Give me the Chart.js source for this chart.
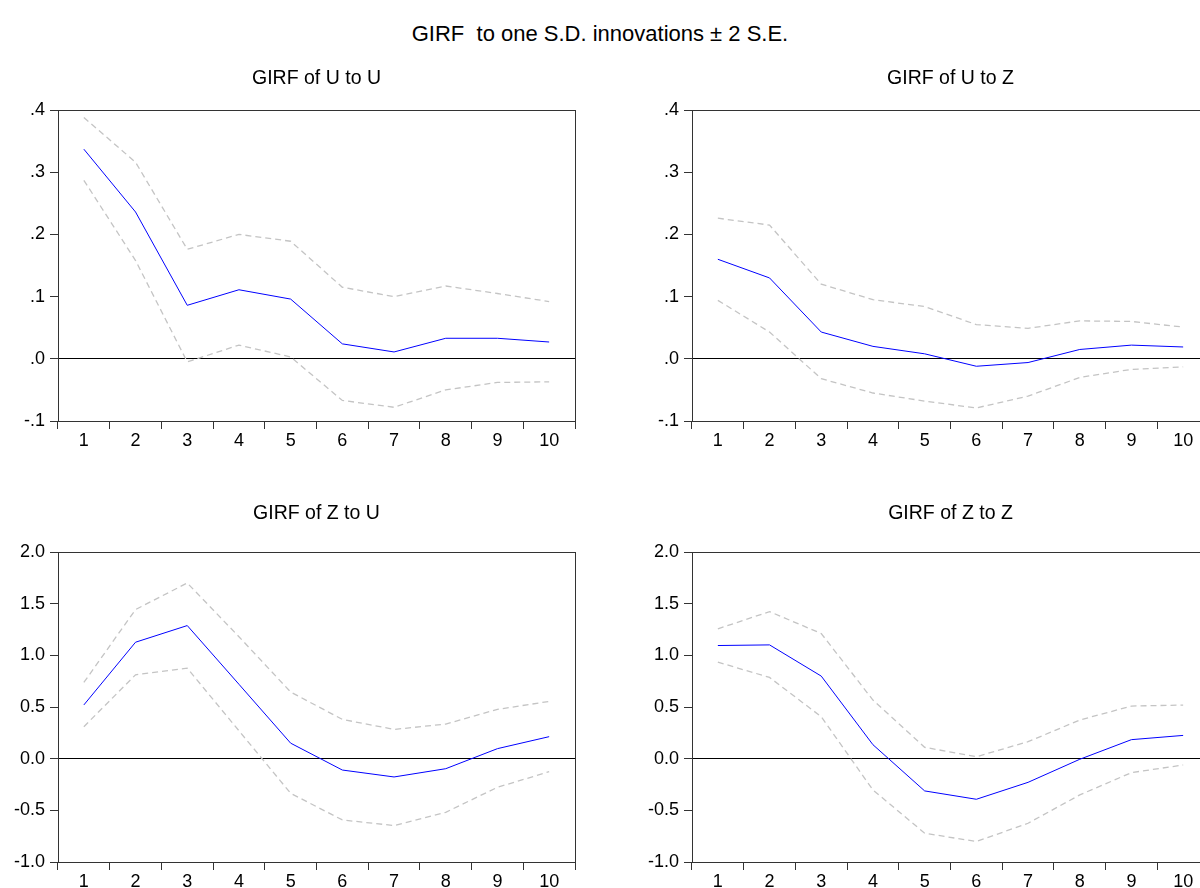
<!DOCTYPE html>
<html>
<head>
<meta charset="utf-8">
<script src="https://cdn.jsdelivr.net/npm/chart.js@4.4.1/dist/chart.umd.min.js"></script>
<style>
    html, body { margin: 0; padding: 0; background: #fff; overflow: hidden; }
    body { width: 1200px; height: 888px; position: relative; }
    #mainTitle { position: absolute; left: 0; width: 1200px; top: 21px; line-height: 26px; text-align: center;
        font-family: "Liberation Sans", Arial, sans-serif; font-size: 22px; color: #000; }
    .panel { position: absolute; }
</style>
</head>
<body>
<div id="mainTitle">GIRF &nbsp;to one S.D. innovations ± 2 S.E.</div>
<div class="panel" style="left:0px;top:50px;width:585px;height:411px"><canvas id="uu"></canvas></div>
<div class="panel" style="left:634px;top:50px;width:585px;height:411px"><canvas id="uz"></canvas></div>
<div class="panel" style="left:0px;top:492px;width:585px;height:410px"><canvas id="zu"></canvas></div>
<div class="panel" style="left:634px;top:492px;width:585px;height:410px"><canvas id="zz"></canvas></div>
<script>
const periods = ['1', '2', '3', '4', '5', '6', '7', '8', '9', '10'];

// y ticks, small scale (U responses) and large scale (Z responses)
const smallTickValues = [-0.1, 0, 0.1, 0.2, 0.3, 0.4];
const smallTickLabels = ['-.1', '.0', '.1', '.2', '.3', '.4'];
const bigTickValues = [-1, -0.5, 0, 0.5, 1, 1.5, 2];
const bigTickLabels = ['-1.0', '-0.5', '0.0', '0.5', '1.0', '1.5', '2.0'];

// GIRF of U to U
const uuMid = [0.337, 0.236, 0.086, 0.111, 0.096, 0.024, 0.011, 0.033, 0.033, 0.027];
const uuUp = [0.388, 0.316, 0.176, 0.200, 0.189, 0.115, 0.100, 0.117, 0.105, 0.092];
const uuLo = [0.287, 0.158, -0.005, 0.022, 0.003, -0.067, -0.078, -0.050, -0.038, -0.037];

// GIRF of U to Z
const uzMid = [0.160, 0.130, 0.043, 0.020, 0.008, -0.012, -0.006, 0.015, 0.022, 0.019];
const uzUp = [0.226, 0.215, 0.120, 0.095, 0.084, 0.055, 0.049, 0.061, 0.060, 0.051];
const uzLo = [0.094, 0.043, -0.032, -0.055, -0.068, -0.079, -0.060, -0.030, -0.017, -0.013];

// GIRF of Z to U
const zuMid = [0.52, 1.127, 1.288, 0.72, 0.15, -0.11, -0.177, -0.097, 0.097, 0.213];
const zuUp = [0.738, 1.443, 1.70, 1.18, 0.645, 0.38, 0.283, 0.335, 0.477, 0.554];
const zuLo = [0.309, 0.812, 0.876, 0.27, -0.335, -0.593, -0.647, -0.519, -0.277, -0.126];

// GIRF of Z to Z
const zzMid = [1.095, 1.101, 0.799, 0.135, -0.312, -0.393, -0.229, -0.006, 0.184, 0.225];
const zzUp = [1.256, 1.423, 1.211, 0.567, 0.110, 0.019, 0.164, 0.374, 0.509, 0.519];
const zzLo = [0.934, 0.786, 0.406, -0.303, -0.721, -0.802, -0.625, -0.351, -0.135, -0.061];

const fontFamily = '"Liberation Sans", Arial, sans-serif';
const frameColor = '#333';

// draws the top and right sides of the box
const framePlugin = {
    id: 'frame',
    afterDraw(chart) {
        const { ctx, chartArea } = chart;
        ctx.save();
        ctx.strokeStyle = frameColor;
        ctx.lineWidth = 1;
        ctx.strokeRect(chartArea.left + 0.5, chartArea.top + 0.5, chartArea.width, chartArea.height);
        ctx.restore();
    }
};

function bandLine(data) {
    return {
        data: data,
        borderColor: '#c4c4c4',
        borderWidth: 1.3,
        borderDash: [6, 4],
        pointRadius: 0,
        fill: false
    };
}

function makePanel(id, title, titleTop, titleBottom, mid, up, lo, tickValues, tickLabels) {
    new Chart(document.getElementById(id), {
        type: 'line',
        data: {
            labels: periods,
            datasets: [
                bandLine(up),
                {
                    data: mid,
                    borderColor: '#0000ff',
                    borderWidth: 1,
                    pointRadius: 0,
                    fill: false
                },
                bandLine(lo)
            ]
        },
        options: {
            responsive: true,
            maintainAspectRatio: false,
            animation: false,
            layout: { padding: { left: 0, right: 10, top: 0, bottom: 0 } },
            plugins: {
                legend: { display: false },
                tooltip: { enabled: false },
                title: {
                    display: true,
                    text: title,
                    fullSize: false,
                    color: '#000',
                    font: { family: fontFamily, size: 19.5, weight: 'normal', lineHeight: 1.2 },
                    padding: { top: titleTop, bottom: titleBottom }
                }
            },
            scales: {
                x: {
                    offset: true,
                    grid: {
                        offset: true,
                        drawOnChartArea: false,
                        tickLength: 8,
                        tickColor: frameColor
                    },
                    border: { color: frameColor },
                    ticks: {
                        color: '#000',
                        padding: 1,
                        maxRotation: 0,
                        autoSkip: false,
                        font: { family: fontFamily, size: 18 }
                    },
                    afterFit(scale) { scale.height = 40; }
                },
                y: {
                    min: tickValues[0],
                    max: tickValues[tickValues.length - 1],
                    afterBuildTicks(scale) {
                        scale.ticks = tickValues.map(v => ({ value: v }));
                    },
                    grid: {
                        color: ctx => (ctx.tick && ctx.tick.value === 0) ? '#000' : 'rgba(0,0,0,0)',
                        tickColor: frameColor,
                        tickLength: 8
                    },
                    border: { color: frameColor },
                    ticks: {
                        color: '#000',
                        padding: 5,
                        font: { family: fontFamily, size: 18 },
                        callback: (value, index) => tickLabels[index]
                    },
                    afterFit(scale) { scale.width = 58; }
                }
            }
        },
        plugins: [framePlugin]
    });
}

makePanel('uu', 'GIRF of U to U', 17.3, 19.3, uuMid, uuUp, uuLo, smallTickValues, smallTickLabels);
makePanel('uz', 'GIRF of U to Z', 17.3, 19.3, uzMid, uzUp, uzLo, smallTickValues, smallTickLabels);
makePanel('zu', 'GIRF of Z to U', 10.3, 26.3, zuMid, zuUp, zuLo, bigTickValues, bigTickLabels);
makePanel('zz', 'GIRF of Z to Z', 10.3, 26.3, zzMid, zzUp, zzLo, bigTickValues, bigTickLabels);
</script>
</body>
</html>
